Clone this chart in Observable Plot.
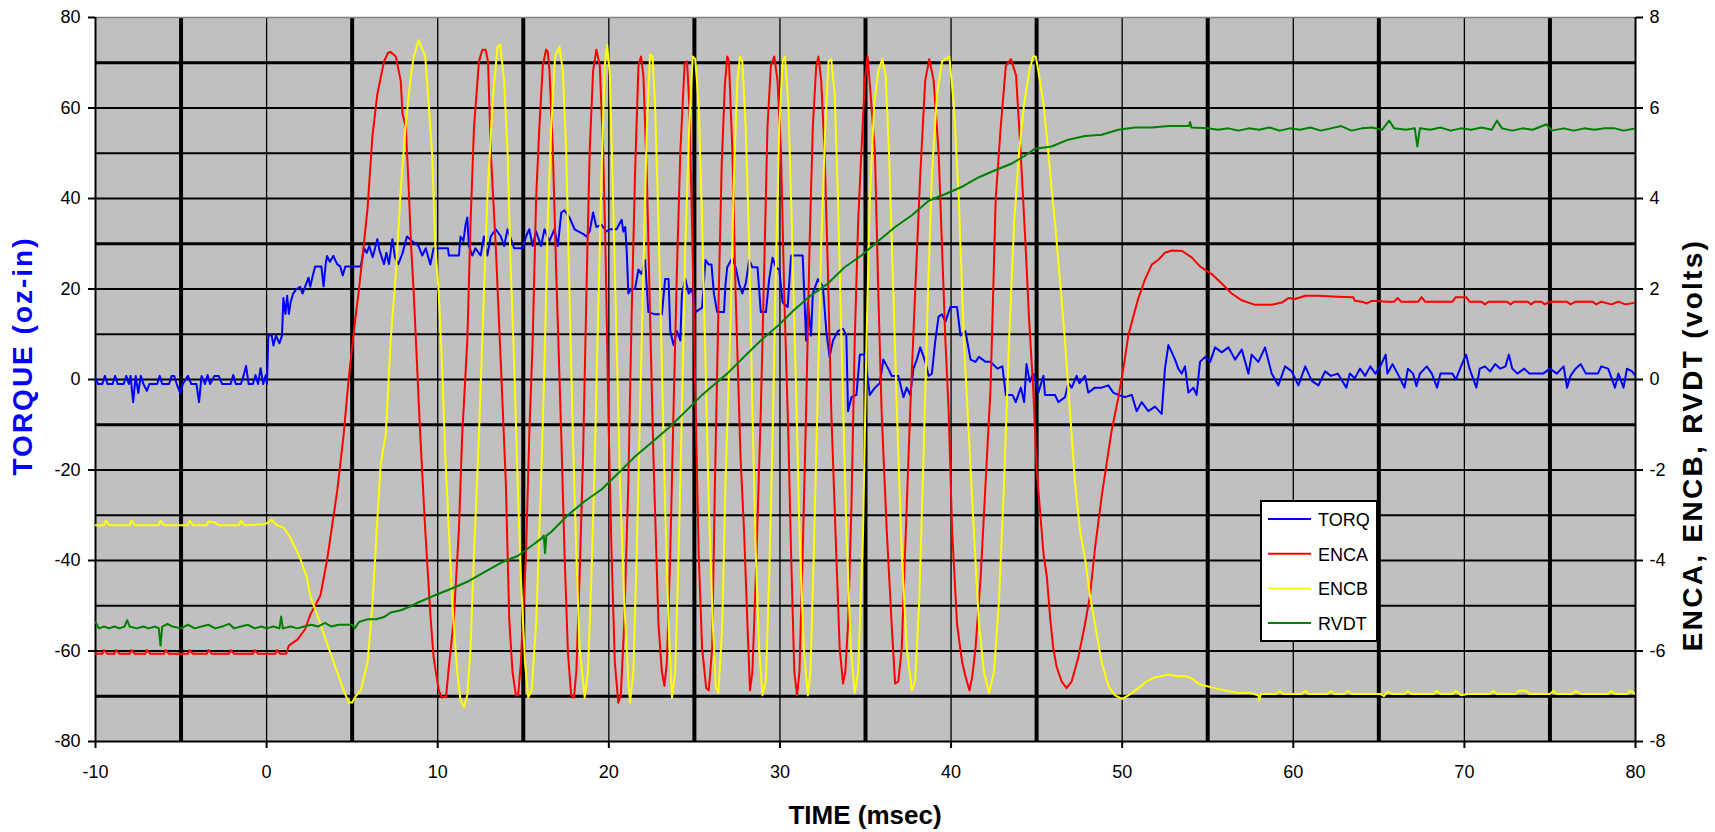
<!DOCTYPE html>
<html>
<head>
<meta charset="utf-8">
<script src="https://cdn.jsdelivr.net/npm/d3@7"></script>
<script src="https://cdn.jsdelivr.net/npm/@observablehq/plot@0.6"></script>
<style>
  html, body { margin: 0; padding: 0; background: #ffffff; }
  svg { display: block; }
</style>
</head>
<body>
<div id="chart"></div>
<script>
// ---------- tick labels / grid ----------
const xTicks = [-10, 0, 10, 20, 30, 40, 50, 60, 70, 80];
const yTicksLeft = [-80, -60, -40, -20, 0, 20, 40, 60, 80];
const yTicksRight = [-8, -6, -4, -2, 0, 2, 4, 6, 8];
const hGridMajor = [70, 30, -10, -70];
const hGridMinor = [60, 50, 40, 20, 10, 0, -20, -30, -40, -50, -60];
const vGridMajor = [-5, 5, 15, 25, 35, 45, 55, 65, 75];
const vGridMinor = [0, 10, 20, 30, 40, 50, 60, 70];
const seriesNames = ["TORQ", "ENCA", "ENCB", "RVDT"];
const seriesColors = ["#0000FF", "#FF0000", "#FFFF00", "#008000"];
const VOLT = 10; // oz-in of left axis per volt of right axis

// ---------- TORQ (oz-in) ----------
const TORQ = [[-10,0.3],[-9.85,-1],[-9.6,-1],[-9.45,0.8],[-9.3,-1],[-9.0,-1],[-8.85,0.8],[-8.7,-1],[-8.35,-1],[-8.2,0.8],[-8.05,-1],[-7.95,0.8],[-7.8,-5],[-7.65,0.8],[-7.5,-3],[-7.35,0.8],[-7.2,-1],[-7.0,-2.5],[-6.85,-1],[-6.4,-1],[-6.25,0.8],[-6.1,-1],[-5.7,-1],[-5.55,0.8],[-5.4,0.8],[-5.25,-1],[-5.05,-3],[-4.9,-1],[-4.6,0.8],[-4.4,-1],[-4.1,-1],[-3.95,-5],[-3.8,0.8],[-3.6,-1],[-3.45,1],[-3.3,-1],[-3.05,0.8],[-2.8,0.8],[-2.6,-1],[-2.1,-1],[-1.95,1],[-1.8,-1],[-1.5,-1],[-1.35,0.8],[-1.2,3],[-1.05,-1],[-0.8,-1],[-0.65,1],[-0.5,-1],[-0.35,2.5],[-0.2,-1],[-0.05,1],[0.02,-1],
[0.1,9.7],[0.3,9.7],[0.4,7.5],[0.55,9.7],[0.75,8.0],[0.9,9.7],[0.98,18],[1.1,14.5],[1.2,18.5],[1.3,14.5],[1.4,17],[1.55,19],[1.75,20],[1.96,20.5],[2.1,19],[2.3,21],[2.45,22.5],[2.55,20.5],[2.7,23],[2.84,25],[3.2,25],[3.33,20.6],[3.45,25.5],[3.53,27.3],[3.7,26],[3.9,27.3],[4.12,25.5],[4.3,25],[4.45,23],[4.6,25],[5.5,25],[5.6,27],[5.7,29],[5.85,28],[6.0,29.5],[6.2,27],[6.47,31],[6.6,28.5],[6.86,25.5],[7.0,28],[7.15,25.5],[7.35,31],[7.5,27],[7.7,25.5],[7.95,28],[8.2,31.6],[8.5,30.6],[8.88,29.5],[9.1,27.4],[9.3,29],[9.57,25.4],[9.76,29],[10.6,29],[10.65,27.4],[11.24,27.4],[11.33,31.6],[11.5,30.6],[11.63,34.2],[11.73,35.8],[11.82,29.5],[12.02,27.4],[12.2,29],[12.51,27.4],[12.7,31.6],[12.9,27.4],[13.1,31.6],[13.39,33.2],[13.69,31.6],[13.88,29.5],[14.08,33.2],[14.47,29],[14.96,29],[15.16,31.6],[15.35,33.2],[15.55,29.5],[15.75,32.7],[16.04,29.5],[16.24,33.2],[16.53,30.6],[16.82,33.2],[17.02,29.5],[17.22,36.9],[17.41,37.4],[17.7,35.8],[18.0,33.2],[18.49,32.2],[18.69,31.6],[18.88,32.7],[19.08,36.9],[19.27,33.7],[19.57,34.2],[19.86,32.7],[20.06,33.2],[20.45,33.2],[20.75,35.3],[20.85,32.7],[20.96,33.7],[21.05,28],[21.14,19],[21.33,20],[21.53,20],[21.73,24.3],[21.92,23.3],[22.12,26.4],[22.31,14.9],[22.7,14.4],[23.1,14.4],[23.29,22.2],[23.49,22.2],[23.59,10.7],[23.78,7.6],[23.98,10.7],[24.18,8.6],[24.27,19],[24.47,22.2],[24.67,19],[24.86,20],[25.06,14.9],[25.45,15.9],[25.65,26.4],[25.84,25.4],[26.0,25.4],[26.14,19],[26.33,14.9],[26.73,14.9],[26.82,21.2],[26.92,24.8],[27.22,26.9],[27.41,24.8],[27.61,21.2],[27.8,19],[28.0,21.2],[28.2,26.4],[28.39,24.8],[28.69,24.8],[28.88,14.9],[29.18,14.9],[29.37,22.2],[29.57,26.9],[29.76,24.8],[29.96,24.3],[30.16,17],[30.45,16],[30.65,27.4],[31.33,27.4],[31.53,8.6],[31.63,17],[31.82,9.7],[31.92,19],[32.22,22.2],[32.51,20.6],[32.71,10.7],[32.9,5],[33.1,8.6],[33.39,10.7],[33.69,11.2],[33.88,9.7],[33.98,-7],[34.18,-3.9],[34.47,-3.4],[34.67,5.5],[34.96,5.5],[35.25,-3.4],[35.55,-1.8],[35.84,-0.8],[36.04,4.4],[36.33,2.4],[36.53,0.8],[36.92,0.8],[37.22,-3.9],[37.41,-1.8],[37.61,-3.4],[37.8,2.4],[38.0,4.4],[38.2,7.1],[38.49,4],[38.69,0.8],[38.88,1.3],[39.08,8.6],[39.27,13.9],[39.47,14.4],[39.67,12.8],[39.96,16],[40.35,16],[40.55,9.7],[40.84,10.7],[41.14,4.4],[41.43,3.9],[41.63,5],[42.02,3.9],[42.31,3.9],[42.71,2.4],[43.0,2.9],[43.2,-3.4],[43.59,-3.4],[43.78,-5],[44.08,-1.8],[44.27,-5],[44.41,3.4],[44.6,-0.5],[44.8,1.3],[45.0,-1.0],[45.1,-2.9],[45.4,0.8],[45.49,-3.4],[46.07,-3.4],[46.27,-5],[46.66,-3.9],[46.85,-0.8],[47.05,-1.8],[47.34,0.8],[47.5,-0.8],[47.83,0.8],[48.02,-2.9],[48.41,-1.8],[48.8,-1.8],[49.19,-1.3],[49.48,-2.9],[49.78,-3.4],[50.17,-3.9],[50.56,-3.4],[50.85,-7],[51.14,-5],[51.53,-7],[51.92,-6],[52.31,-7.6],[52.5,2.4],[52.7,7.6],[52.9,6],[53.09,4.4],[53.28,2.4],[53.48,1.3],[53.67,2.9],[53.87,-2.9],[54.16,-1.8],[54.35,-3.4],[54.55,3.9],[54.84,5],[55.14,3.9],[55.43,7.1],[55.82,6],[56.21,7.1],[56.6,4.4],[56.99,6.6],[57.38,1.3],[57.57,5.5],[57.96,3.9],[58.35,7.1],[58.74,1.3],[59.13,-1.3],[59.52,2.9],[59.91,1.8],[60.3,-1.3],[60.7,2.9],[61.08,-0.3],[61.47,-1.3],[61.86,1.8],[62.2,0.8],[62.6,1.3],[63.1,-1.8],[63.3,1.3],[63.6,0.3],[63.9,2.4],[64.2,0.8],[64.5,2.9],[64.8,1.3],[65.1,3.0],[65.4,5.5],[65.5,1.3],[65.8,3.4],[66.1,1.3],[66.5,-1.8],[66.7,2.4],[67.0,1.3],[67.2,-1.5],[67.4,1.3],[67.8,2.9],[68.1,1.3],[68.4,-1.8],[68.6,1.3],[69.3,1.3],[69.5,0.0],[69.8,2.9],[70.1,5.5],[70.3,2.4],[70.7,-1.8],[70.9,2.4],[71.2,2.9],[71.5,1.8],[71.8,3.4],[72.1,2.4],[72.4,2.9],[72.6,5.5],[72.8,2.4],[73.1,1.3],[73.5,2.4],[73.8,1.3],[74.6,1.3],[75.0,2.4],[75.4,1.3],[75.8,2.9],[76.0,-1.8],[76.2,0.8],[76.5,2.4],[76.8,3.4],[77.1,1.3],[77.8,1.3],[78.0,2.9],[78.4,2.4],[78.8,-1.8],[79.0,1.3],[79.3,-1.8],[79.5,2.4],[79.8,1.8],[80,0.8]];

// ---------- ENCA (volts) ----------
const ENCA = [[-10,-6.06],[-9.6,-6.06],[-9.5,-5.98],[-9.3,-6.06],[-8.9,-6.06],[-8.8,-5.98],[-8.6,-6.06],[-8.0,-6.06],[-7.9,-5.98],[-7.7,-6.06],[-7.1,-6.06],[-7.0,-5.98],[-6.8,-6.06],[-6.0,-6.06],[-5.9,-5.98],[-5.7,-6.06],[-4.6,-6.06],[-4.5,-5.98],[-4.3,-6.06],[-3.5,-6.06],[-3.4,-5.98],[-3.2,-6.06],[-2.2,-6.06],[-2.1,-5.98],[-1.9,-6.06],[-0.8,-6.06],[-0.7,-5.98],[-0.5,-6.06],[0.5,-6.06],[0.6,-5.98],[0.8,-6.06],[1.15,-6.06],
[1.3,-5.88],[1.8,-5.75],[2.25,-5.52],[2.55,-5.2],[3.14,-4.78],[3.53,-4.0],[4.12,-2.48],[4.5,-1.23],[4.8,0.03],[5.1,1.07],[5.4,2.0],[5.7,3.06],[5.9,3.79],[6.18,5.36],[6.47,6.3],[6.86,7.03],[7.1,7.22],[7.25,7.24],[7.55,7.14],[7.84,6.6],[7.94,5.88],[8.14,5.57],[8.33,4.0],[8.43,3.06],[8.6,1.9],[8.98,-1.23],[9.27,-3.32],[9.57,-5.2],[9.76,-6.14],[10.06,-6.87],[10.25,-7.03],[10.49,-7.0],[10.65,-6.35],[10.94,-5.3],[11.24,-3.3],[11.43,-1.23],[11.73,0.86],[11.92,3.48],[12.12,5.57],[12.41,7.03],[12.61,7.29],[12.8,7.29],[12.94,7.03],[13.1,5.04],[13.39,2.95],[13.69,0.34],[13.98,-2.27],[14.18,-5.3],[14.37,-6.46],[14.57,-6.98],[14.7,-6.98],[14.86,-6.25],[15.16,-3.84],[15.35,-1.23],[15.55,0.86],[15.75,4.0],[15.94,5.57],[16.14,6.93],[16.33,7.29],[16.43,7.24],[16.53,6.82],[16.73,5.04],[16.92,2.43],[17.22,-1.23],[17.41,-3.84],[17.61,-6.04],[17.8,-6.98],[17.96,-7.03],[18.1,-6.46],[18.29,-4.37],[18.49,-1.75],[18.69,1.9],[18.88,5.04],[19.08,6.82],[19.27,7.29],[19.47,6.93],[19.67,5.04],[19.8,2.95],[20.0,-1.23],[20.16,-3.84],[20.35,-6.25],[20.55,-7.14],[20.7,-6.98],[20.9,-5.4],[21.14,-2.27],[21.33,1.38],[21.53,4.52],[21.73,6.93],[21.88,7.14],[22.02,6.72],[22.22,4.52],[22.41,1.38],[22.61,-1.75],[22.9,-5.4],[23.1,-6.46],[23.25,-6.77],[23.39,-6.25],[23.59,-3.84],[23.78,-0.7],[23.98,2.43],[24.18,5.04],[24.43,6.98],[24.57,7.03],[24.7,6.09],[24.86,3.48],[25.05,-0.2],[25.25,-3.84],[25.45,-5.93],[25.69,-6.82],[25.84,-6.87],[26.04,-5.93],[26.2,-2.3],[26.4,1.5],[26.6,4.8],[26.78,6.5],[26.92,7.14],[27.02,7.03],[27.22,5.04],[27.41,1.9],[27.7,-1.75],[27.9,-3.32],[28.1,-5.4],[28.25,-6.87],[28.39,-6.46],[28.59,-4.37],[28.88,-0.7],[29.08,2.43],[29.27,5.57],[29.47,6.93],[29.67,7.14],[29.86,6.6],[30.06,5.04],[30.25,1.9],[30.49,-1.23],[30.65,-3.84],[30.84,-6.46],[31.0,-6.98],[31.14,-6.46],[31.33,-3.84],[31.53,-0.7],[31.73,2.95],[31.92,5.57],[32.12,6.93],[32.25,7.14],[32.41,6.6],[32.61,5.04],[32.8,2.43],[33.0,-0.7],[33.29,-3.84],[33.49,-5.93],[33.69,-6.72],[33.82,-6.46],[33.98,-5.4],[34.18,-2.79],[34.37,0.86],[34.57,3.48],[34.76,5.04],[34.96,6.6],[35.12,7.14],[35.3,6.3],[35.55,5.04],[35.75,1.9],[35.94,-0.7],[36.24,-3.32],[36.53,-5.41],[36.73,-6.72],[36.92,-6.67],[37.12,-5.93],[37.31,-3.84],[37.61,-0.7],[37.9,1.9],[38.2,4.52],[38.49,6.61],[38.73,7.08],[38.98,6.61],[39.27,5.04],[39.47,2.95],[39.67,0.86],[39.86,-0.7],[40.06,-3.32],[40.35,-5.41],[40.65,-6.25],[40.84,-6.56],[41.08,-6.87],[41.24,-6.56],[41.43,-5.93],[41.73,-4.37],[42.02,-2.27],[42.31,-0.18],[42.61,4.0],[42.9,5.57],[43.2,6.93],[43.5,7.08],[43.8,6.72],[44.1,4.8],[44.35,3.0],[44.55,1.4],[44.8,-0.2],[45.0,-1.96],[45.2,-2.9],[45.4,-3.84],[45.6,-4.37],[45.8,-5.3],[45.97,-5.93],[46.17,-6.35],[46.46,-6.67],[46.75,-6.82],[47.05,-6.67],[47.44,-6.14],[47.83,-5.4],[48.12,-4.78],[48.41,-3.74],[48.8,-2.59],[49.09,-1.86],[49.39,-1.12],[49.78,-0.39],[50.07,0.24],[50.36,0.97],[50.65,1.39],[50.95,1.8],[51.34,2.22],[51.73,2.54],[52.1,2.64],[52.5,2.8],[52.9,2.85],[53.5,2.84],[54.06,2.7],[54.55,2.5],[55.23,2.33],[55.82,2.12],[56.4,1.9],[56.99,1.75],[57.38,1.7],[57.77,1.65],[58.74,1.65],[59.33,1.7],[59.72,1.8],[60.1,1.78],[60.7,1.85],[61.47,1.85],[62.6,1.83],[63.5,1.82],[63.6,1.74],[64.0,1.72],[64.3,1.68],[64.6,1.74],[65.5,1.72],[65.9,1.72],[66.1,1.8],[66.3,1.72],[67.3,1.72],[67.5,1.82],[67.7,1.72],[69.3,1.72],[69.5,1.82],[70.1,1.82],[70.3,1.72],[71.0,1.72],[71.2,1.66],[71.4,1.72],[72.5,1.72],[72.7,1.66],[72.9,1.72],[73.7,1.72],[73.9,1.66],[74.1,1.72],[74.5,1.72],[74.7,1.66],[75.0,1.72],[76.0,1.72],[76.2,1.66],[76.5,1.72],[77.5,1.72],[77.7,1.66],[78.0,1.72],[78.6,1.66],[79.0,1.72],[79.4,1.66],[80,1.7]];

// ---------- ENCB (volts) ----------
const ENCB = [[-10,-3.22],[-9.5,-3.22],[-9.4,-3.12],[-9.2,-3.22],[-8.0,-3.22],[-7.9,-3.12],[-7.7,-3.22],[-6.3,-3.22],[-6.2,-3.12],[-6.0,-3.22],[-4.6,-3.22],[-4.5,-3.12],[-4.3,-3.22],[-3.5,-3.22],[-3.4,-3.14],[-3.0,-3.16],[-2.8,-3.22],[-1.6,-3.22],[-1.5,-3.12],[-1.3,-3.22],[-0.1,-3.2],[0.3,-3.1],[0.6,-3.22],[0.98,-3.27],[1.37,-3.48],[1.96,-3.95],[2.35,-4.37],[2.55,-4.78],[3.14,-5.4],[3.53,-5.83],[3.92,-6.25],[4.5,-6.87],[4.8,-7.14],[5.0,-7.14],[5.2,-7.0],[5.5,-6.87],[5.9,-6.25],[6.18,-5.0],[6.47,-3.1],[6.67,-1.86],[6.96,-1.23],[7.25,0.86],[7.55,2.33],[7.84,4.21],[8.14,5.67],[8.43,6.72],[8.6,7.14],[8.88,7.5],[9.05,7.35],[9.27,7.14],[9.47,6.09],[9.67,5.0],[9.86,2.95],[10.06,1.9],[10.25,0.34],[10.45,-1.75],[10.65,-3.32],[10.84,-4.89],[11.14,-6.46],[11.33,-7.08],[11.53,-7.24],[11.73,-6.98],[11.92,-5.93],[12.12,-3.84],[12.41,-1.23],[12.7,1.9],[12.9,4.0],[13.2,6.09],[13.49,7.35],[13.65,7.4],[13.88,6.6],[14.08,5.04],[14.27,2.43],[14.47,0.34],[14.67,-2.27],[14.86,-4.37],[15.1,-6.25],[15.29,-7.03],[15.49,-6.87],[15.75,-5.4],[16.04,-2.27],[16.24,0.34],[16.43,3.48],[16.63,5.57],[16.86,7.14],[17.12,7.35],[17.31,6.82],[17.51,5.04],[17.7,1.9],[17.9,-1.23],[18.1,-3.84],[18.29,-5.93],[18.59,-7.03],[18.78,-6.46],[18.98,-4.37],[19.18,-1.75],[19.37,1.38],[19.57,4.52],[19.76,6.93],[19.9,7.4],[20.06,6.72],[20.25,4.0],[20.45,0.86],[20.65,-2.27],[20.9,-4.89],[21.14,-6.67],[21.24,-7.14],[21.43,-6.46],[21.63,-3.84],[21.82,-0.7],[22.02,2.43],[22.22,5.57],[22.41,7.19],[22.55,7.14],[22.7,6.09],[22.9,3.48],[23.1,0.34],[23.29,-2.79],[23.49,-5.4],[23.69,-7.03],[23.88,-6.46],[24.08,-3.84],[24.27,-0.7],[24.47,2.95],[24.7,5.57],[24.9,7.14],[25.05,7.08],[25.25,6.09],[25.45,3.48],[25.65,0.34],[25.84,-2.79],[26.08,-5.4],[26.25,-6.8],[26.4,-6.93],[26.62,-5.5],[26.82,-2.27],[27.12,1.38],[27.31,4.52],[27.51,6.6],[27.67,7.14],[27.8,7.03],[28.0,5.57],[28.2,2.95],[28.39,-0.7],[28.59,-3.84],[28.78,-5.93],[28.98,-6.98],[29.18,-6.67],[29.37,-4.37],[29.57,-1.23],[29.76,2.43],[29.96,5.57],[30.16,7.03],[30.29,7.14],[30.49,6.09],[30.69,3.48],[30.94,-0.2],[31.14,-3.32],[31.39,-5.93],[31.63,-6.98],[31.78,-6.46],[31.98,-3.84],[32.18,-0.7],[32.41,2.95],[32.65,5.57],[32.84,7.03],[33.0,7.08],[33.2,6.3],[33.39,4.0],[33.63,0.34],[33.88,-3.32],[34.14,-5.93],[34.37,-6.93],[34.57,-6.46],[34.86,-3.32],[35.06,0.86],[35.25,4.0],[35.51,6.09],[35.75,6.82],[35.98,7.08],[36.18,6.72],[36.37,5.04],[36.63,1.9],[36.88,-1.23],[37.12,-3.84],[37.41,-5.93],[37.71,-6.87],[37.9,-6.67],[38.14,-4.89],[38.39,-1.75],[38.65,1.9],[38.88,4.52],[39.18,6.3],[39.47,7.03],[39.9,7.14],[40.16,6.09],[40.45,4.0],[40.75,0.86],[41.04,-1.23],[41.33,-3.32],[41.63,-5.4],[41.92,-6.46],[42.22,-6.93],[42.51,-6.46],[42.8,-4.89],[43.1,-2.27],[43.39,0.86],[43.69,3.48],[43.98,5.04],[44.27,6.09],[44.57,6.82],[44.8,7.14],[44.95,7.14],[45.1,6.82],[45.4,6.09],[45.68,5.04],[45.88,4.2],[46.07,3.48],[46.36,2.22],[46.66,0.86],[46.85,-0.18],[47.05,-1.23],[47.24,-2.27],[47.53,-3.32],[47.83,-3.95],[48.12,-4.78],[48.41,-5.4],[48.8,-6.25],[49.19,-6.77],[49.58,-6.98],[50.0,-7.06],[50.36,-6.98],[50.95,-6.82],[51.43,-6.67],[51.92,-6.58],[52.3,-6.56],[52.7,-6.52],[53.2,-6.56],[53.67,-6.56],[54.06,-6.6],[54.45,-6.72],[54.84,-6.77],[55.43,-6.82],[56.01,-6.87],[56.79,-6.93],[57.5,-6.93],[57.96,-6.98],[58.0,-7.1],[58.1,-6.95],[59.0,-6.95],[59.2,-6.88],[59.4,-6.95],[60.5,-6.95],[60.7,-6.88],[60.9,-6.95],[62.0,-6.95],[62.2,-6.88],[62.4,-6.95],[63.0,-6.95],[63.2,-6.88],[63.4,-6.95],[65.1,-6.95],[65.3,-7.0],[65.5,-6.9],[65.8,-6.95],[66.5,-6.95],[66.7,-6.88],[66.9,-6.95],[68.2,-6.95],[68.4,-6.88],[68.6,-6.95],[69.3,-6.95],[69.5,-6.88],[69.8,-6.98],[70.2,-6.95],[71.5,-6.95],[71.7,-6.88],[71.9,-6.95],[73.0,-6.95],[73.2,-6.88],[73.6,-6.88],[73.8,-6.95],[75.0,-6.95],[75.2,-6.88],[75.4,-6.95],[76.3,-6.95],[76.5,-6.88],[76.8,-6.95],[78.4,-6.95],[78.6,-6.88],[78.8,-6.95],[79.5,-6.95],[79.7,-6.88],[80,-6.95]];

// ---------- RVDT (volts) ----------
const RVDT = [[-10,-5.36],[-9.8,-5.5],[-9.5,-5.46],[-9.2,-5.5],[-8.9,-5.46],[-8.6,-5.5],[-8.3,-5.46],[-8.15,-5.32],[-8.0,-5.46],[-7.6,-5.5],[-7.2,-5.46],[-6.9,-5.5],[-6.5,-5.46],[-6.3,-5.5],[-6.2,-5.88],[-6.1,-5.46],[-5.8,-5.4],[-5.5,-5.46],[-5.0,-5.5],[-4.6,-5.42],[-4.2,-5.5],[-3.8,-5.46],[-3.4,-5.42],[-3.0,-5.5],[-2.6,-5.46],[-2.2,-5.4],[-1.9,-5.5],[-1.5,-5.46],[-1.1,-5.42],[-0.7,-5.5],[-0.3,-5.46],[0.0,-5.5],[0.4,-5.46],[0.75,-5.5],[0.85,-5.24],[0.95,-5.5],[1.4,-5.46],[1.8,-5.5],[2.2,-5.46],[2.6,-5.42],[3.0,-5.46],[3.4,-5.38],[3.8,-5.46],[4.2,-5.42],[5.0,-5.42],[5.15,-5.5],[5.4,-5.36],[5.88,-5.3],[6.4,-5.3],[6.86,-5.25],[7.25,-5.15],[7.84,-5.1],[8.43,-5.01],[8.78,-4.94],[9.76,-4.78],[10.75,-4.63],[11.73,-4.47],[12.7,-4.26],[13.69,-4.05],[14.67,-3.9],[15.65,-3.63],[16.1,-3.5],[16.2,-3.45],[16.27,-3.84],[16.35,-3.45],[16.63,-3.37],[17.6,-3.0],[18.59,-2.69],[19.57,-2.43],[20.55,-2.07],[21.53,-1.7],[22.5,-1.39],[23.49,-1.07],[24.47,-0.71],[25.45,-0.34],[25.94,-0.18],[26.92,0.13],[27.9,0.5],[28.88,0.86],[29.86,1.18],[30.84,1.54],[31.82,1.86],[32.8,2.12],[33.78,2.48],[34.76,2.74],[35.75,3.06],[36.73,3.37],[37.71,3.63],[38.69,3.95],[39.67,4.1],[40.65,4.26],[41.63,4.47],[42.61,4.63],[43.59,4.78],[44.3,4.94],[44.9,5.1],[45.88,5.15],[46.85,5.3],[47.83,5.38],[48.8,5.41],[49.78,5.52],[50.75,5.57],[51.73,5.57],[52.7,5.6],[53.9,5.6],[53.97,5.69],[54.05,5.57],[55.0,5.55],[55.6,5.52],[56.2,5.55],[56.8,5.5],[57.4,5.55],[58.0,5.52],[58.6,5.57],[59.2,5.5],[59.8,5.55],[60.4,5.52],[61.0,5.57],[61.6,5.5],[62.2,5.55],[62.8,5.6],[63.4,5.5],[64.0,5.55],[64.6,5.57],[65.2,5.52],[65.6,5.72],[65.9,5.55],[66.6,5.52],[67.1,5.55],[67.25,5.15],[67.4,5.55],[68.0,5.52],[68.6,5.57],[69.2,5.5],[69.8,5.55],[70.4,5.52],[71.0,5.57],[71.6,5.52],[71.9,5.72],[72.2,5.55],[72.8,5.5],[73.4,5.55],[74.0,5.52],[74.8,5.64],[75.1,5.5],[75.8,5.55],[76.4,5.5],[77.0,5.55],[77.6,5.52],[78.2,5.55],[78.8,5.55],[79.3,5.5],[80,5.55]];

// ---------- chart ----------
const font = "'Liberation Sans', Arial, sans-serif";
const xy = {x: d => d[0], y: d => d[1]};
const xyV = {x: d => d[0], y: d => d[1] * VOLT};

const chart = Plot.plot({
  width: 1715,
  height: 832,
  marginLeft: 95,
  marginRight: 80,
  marginTop: 17,
  marginBottom: 91,
  x: {domain: [-10, 80]},
  y: {domain: [-80, 80]},
  style: {fontFamily: font, fontSize: "18px", background: "#ffffff", overflow: "visible"},
  marks: [
    Plot.frame({fill: "#C0C0C0"}),
    Plot.ruleY(hGridMinor, {stroke: "#000", strokeWidth: 2}),
    Plot.ruleY(hGridMajor, {stroke: "#000", strokeWidth: 3.2}),
    Plot.ruleX(vGridMinor, {stroke: "#000", strokeWidth: 1.3}),
    Plot.ruleX(vGridMajor, {stroke: "#000", strokeWidth: 4}),
    Plot.ruleY([80], {stroke: "#808080", strokeWidth: 1.5}),
    Plot.ruleY([-80], {stroke: "#000", strokeWidth: 2}),
    Plot.ruleX([-10, 80], {stroke: "#000", strokeWidth: 2}),
    Plot.axisY({anchor: "left", ticks: yTicksLeft, tickSize: 7, tickPadding: 8, tickFormat: d => String(d), label: null, fontSize: 18, strokeWidth: 2}),
    Plot.axisY({anchor: "right", ticks: yTicksRight.map(v => v * VOLT), tickSize: 7, tickPadding: 7, tickFormat: d => String(d / VOLT), label: null, fontSize: 18, strokeWidth: 2}),
    Plot.axisX({anchor: "bottom", ticks: xTicks, tickSize: 7, tickPadding: 17, tickFormat: d => String(d), label: null, fontSize: 18, strokeWidth: 2}),
    Plot.line(TORQ, {...xy, stroke: seriesColors[0], strokeWidth: 2, clip: true}),
    Plot.line(ENCA, {...xyV, stroke: seriesColors[1], strokeWidth: 2, clip: true}),
    Plot.line(ENCB, {...xyV, stroke: seriesColors[2], strokeWidth: 2, clip: true}),
    Plot.line(RVDT, {...xyV, stroke: seriesColors[3], strokeWidth: 2, clip: true})
  ]
});

document.getElementById("chart").appendChild(chart);

// ---------- titles & legend ----------
const svg = d3.select(chart);
svg.append("text")
  .attr("x", 865).attr("y", 815)
  .attr("text-anchor", "middle").attr("dominant-baseline", "central")
  .style("font-family", font).style("font-size", "26px").style("font-weight", "bold")
  .attr("fill", "#000").text("TIME (msec)");
svg.append("text")
  .attr("transform", "translate(22,356) rotate(-90)")
  .attr("text-anchor", "middle").attr("dominant-baseline", "central")
  .style("font-family", font).style("font-size", "28px").style("font-weight", "bold")
  .style("letter-spacing", "2px")
  .attr("fill", "#0000FF").text("TORQUE (oz-in)");
svg.append("text")
  .attr("transform", "translate(1692,445) rotate(-90)")
  .attr("text-anchor", "middle").attr("dominant-baseline", "central")
  .style("font-family", font).style("font-size", "28px").style("font-weight", "bold")
  .style("letter-spacing", "2.3px")
  .attr("fill", "#000").text("ENCA, ENCB, RVDT (volts)");

const lg = svg.append("g").attr("text-anchor", "start");
lg.append("rect").attr("x", 1261).attr("y", 501).attr("width", 116).attr("height", 140)
  .attr("fill", "#ffffff").attr("stroke", "#000").attr("stroke-width", 2);
seriesNames.forEach((name, i) => {
  const yy = 519 + i * 34.7;
  lg.append("line").attr("x1", 1268).attr("x2", 1311).attr("y1", yy).attr("y2", yy)
    .attr("stroke", seriesColors[i]).attr("stroke-width", 2);
  lg.append("text").attr("x", 1318).attr("y", yy + 7)
    .attr("text-anchor", "start")
    .style("font-family", font).style("font-size", "18px")
    .attr("fill", "#000").text(name);
});
</script>
</body>
</html>
